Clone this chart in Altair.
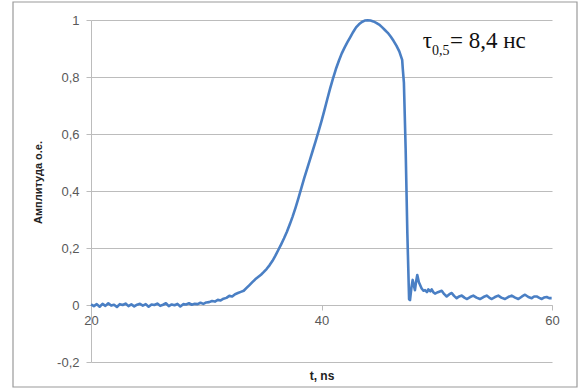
import altair as alt
import pandas as pd

# ---- data ----
t_base = [20.0, 20.25, 20.5, 20.75, 21.0, 21.25, 21.5, 21.75, 22.0, 22.25, 22.5, 22.75,
          23.0, 23.25, 23.5, 23.75, 24.0, 24.25, 24.5, 24.75, 25.0, 25.25, 25.5, 25.75,
          26.0, 26.25, 26.5, 26.75, 27.0, 27.25, 27.5, 27.75, 28.0, 28.25, 28.5, 28.75,
          29.0, 29.25, 29.5, 29.75, 30.0]
v_base = [0.002, -0.004, 0.003, -0.006, 0.004, -0.003, 0.006, -0.002, 0.001, -0.007, 0.003, 0.000,
          0.005, -0.004, 0.002, -0.005, 0.001, 0.004, -0.002, 0.003, -0.006, 0.002, 0.000, 0.005,
          -0.003, 0.001, 0.006, -0.004, 0.002, -0.001, 0.004, -0.005, 0.003, 0.002, 0.006, 0.001,
          0.004, 0.003, 0.008, 0.004, 0.009]

t_rise = [30.25, 30.5, 30.75, 31.0, 31.25, 31.5, 31.75, 32.0, 32.25, 32.5, 32.75, 33.0, 33.25,
          33.5, 33.75, 34.0, 34.25, 34.5, 34.75, 35.0, 35.25, 35.5, 35.75, 36.0, 36.25, 36.5,
          36.75, 37.0, 37.25, 37.5, 37.75, 38.0, 38.25, 38.5, 38.75, 39.0, 39.25, 39.5, 39.75,
          40.0, 40.25, 40.5, 40.75, 41.0, 41.25, 41.5, 41.75, 42.0, 42.25, 42.5, 42.75, 43.0,
          43.25, 43.5, 43.75, 44.0, 44.25, 44.5, 44.75, 45.0, 45.25, 45.5, 45.75, 46.0, 46.25,
          46.5, 46.75, 47.0, 47.05, 47.15, 47.3, 47.45, 47.6]
v_rise = [0.010, 0.014, 0.012, 0.018, 0.016, 0.022, 0.025, 0.032, 0.030, 0.038, 0.042, 0.046, 0.050,
          0.060, 0.070, 0.080, 0.090, 0.098, 0.106, 0.116, 0.127, 0.140, 0.155, 0.173, 0.193, 0.213,
          0.234, 0.257, 0.283, 0.311, 0.342, 0.375, 0.410, 0.445, 0.478, 0.510, 0.543, 0.576, 0.610,
          0.645, 0.683, 0.722, 0.760, 0.795, 0.828, 0.856, 0.882, 0.903, 0.922, 0.940, 0.958, 0.974,
          0.985, 0.993, 0.998, 0.999, 0.998, 0.995, 0.990, 0.984, 0.975, 0.965, 0.955, 0.942, 0.927,
          0.910, 0.890, 0.860, 0.830, 0.780, 0.550, 0.250, 0.020]

t_tail = [47.68, 47.8, 47.91, 48.0, 48.11, 48.2, 48.31, 48.45, 48.69, 48.85, 48.98, 49.15, 49.27,
          49.45, 49.56, 49.7, 49.85, 50.1, 50.43, 50.65, 50.86, 51.1, 51.3, 51.5, 51.73, 51.95,
          52.17, 52.4, 52.6, 52.9, 53.17, 53.45, 53.75, 54.05, 54.33, 54.55, 54.77, 55.05, 55.34,
          55.6, 55.92, 56.2, 56.5, 56.8, 57.08, 57.4, 57.66, 57.95, 58.24, 58.45, 58.67, 58.9,
          59.11, 59.3, 59.54, 59.75, 59.97]
v_tail = [0.017, 0.060, 0.088, 0.070, 0.052, 0.080, 0.105, 0.080, 0.058, 0.050, 0.052, 0.045, 0.055,
          0.048, 0.055, 0.045, 0.040, 0.045, 0.050, 0.038, 0.030, 0.038, 0.042, 0.032, 0.024, 0.030,
          0.033, 0.026, 0.021, 0.028, 0.033, 0.026, 0.021, 0.028, 0.033, 0.026, 0.021, 0.028, 0.033,
          0.026, 0.021, 0.028, 0.033, 0.026, 0.021, 0.030, 0.036, 0.028, 0.024, 0.030, 0.030, 0.025,
          0.021, 0.026, 0.028, 0.024, 0.024]

x_ticks = [20, 40, 60]
y_ticks = [-0.2, 0, 0.2, 0.4, 0.6, 0.8, 1]

df = pd.DataFrame({"t": t_base + t_rise + t_tail, "v": v_base + v_rise + v_tail})

GRID = "#bcbcbc"
LABEL = "#595959"
FONT = "Liberation Sans"
SERIF = "'Liberation Serif', 'DejaVu Serif', serif"

y_label_expr = "replace(replace(format(datum.value, '~g'), '.', ','), '\u2212', '-')"

line = alt.Chart(df).mark_line(color="#4a7fc4", strokeWidth=2.6, strokeJoin="round").encode(
    x=alt.X("t:Q", scale=alt.Scale(domain=[20, 60], nice=False, zero=False),
            axis=alt.Axis(values=x_ticks, grid=False, offset=-57, domainColor=GRID,
                          tickColor=GRID, tickSize=5, labelPadding=4, labelFontSize=13,
                          labelFlush=False,
                          labelColor=LABEL, labelFont=FONT, title="t, ns", titleFont=FONT,
                          titleFontSize=12, titleFontWeight="bold", titleColor="#222222",
                          titleY=70, titleBaseline="middle")),
    y=alt.Y("v:Q", scale=alt.Scale(domain=[-0.2, 1], nice=False, zero=False),
            axis=alt.Axis(values=y_ticks, grid=True, gridColor=GRID, gridWidth=1.2,
                          domainColor=GRID, tickColor=GRID, tickSize=5, labelPadding=7,
                          labelFontSize=13, labelColor=LABEL, labelFont=FONT,
                          labelExpr=y_label_expr, title="Амплитуда о.е.", titleFont=FONT,
                          titleFontSize=11, titleFontWeight="bold", titleColor="#222222",
                          titleX=-53, titleY=162, titleBaseline="middle")),
)

ann = pd.DataFrame({"a": [0]})
tau = alt.Chart(ann).mark_text(text="τ", font=SERIF, fontSize=23, align="right",
                               baseline="alphabetic", color="#111111").encode(
    x=alt.value(341), y=alt.value(28))
sub = alt.Chart(ann).mark_text(text="0,5", font=SERIF, fontSize=14, align="left",
                               baseline="alphabetic", color="#111111").encode(
    x=alt.value(341), y=alt.value(35))
rest = alt.Chart(ann).mark_text(text="= 8,4 нс", font=SERIF, fontSize=23,
                                align="left", baseline="alphabetic", color="#111111").encode(
    x=alt.value(359), y=alt.value(28))

frame = alt.Chart(ann).mark_rect(fillOpacity=0, stroke="#9a9a9a", strokeWidth=1.2).encode(
    x=alt.value(-78), x2=alt.value(486), y=alt.value(-18), y2=alt.value(367))

chart = alt.layer(frame, line, tau, sub, rest).properties(
    width=461, height=342,
    padding={"left": 91, "top": 20, "right": 31, "bottom": 27},
    autosize=alt.AutoSizeParams(type="none"),
    background="white",
).configure_view(stroke=None)

chart.save("out.html", embed_options={"renderer": "svg", "actions": False})
